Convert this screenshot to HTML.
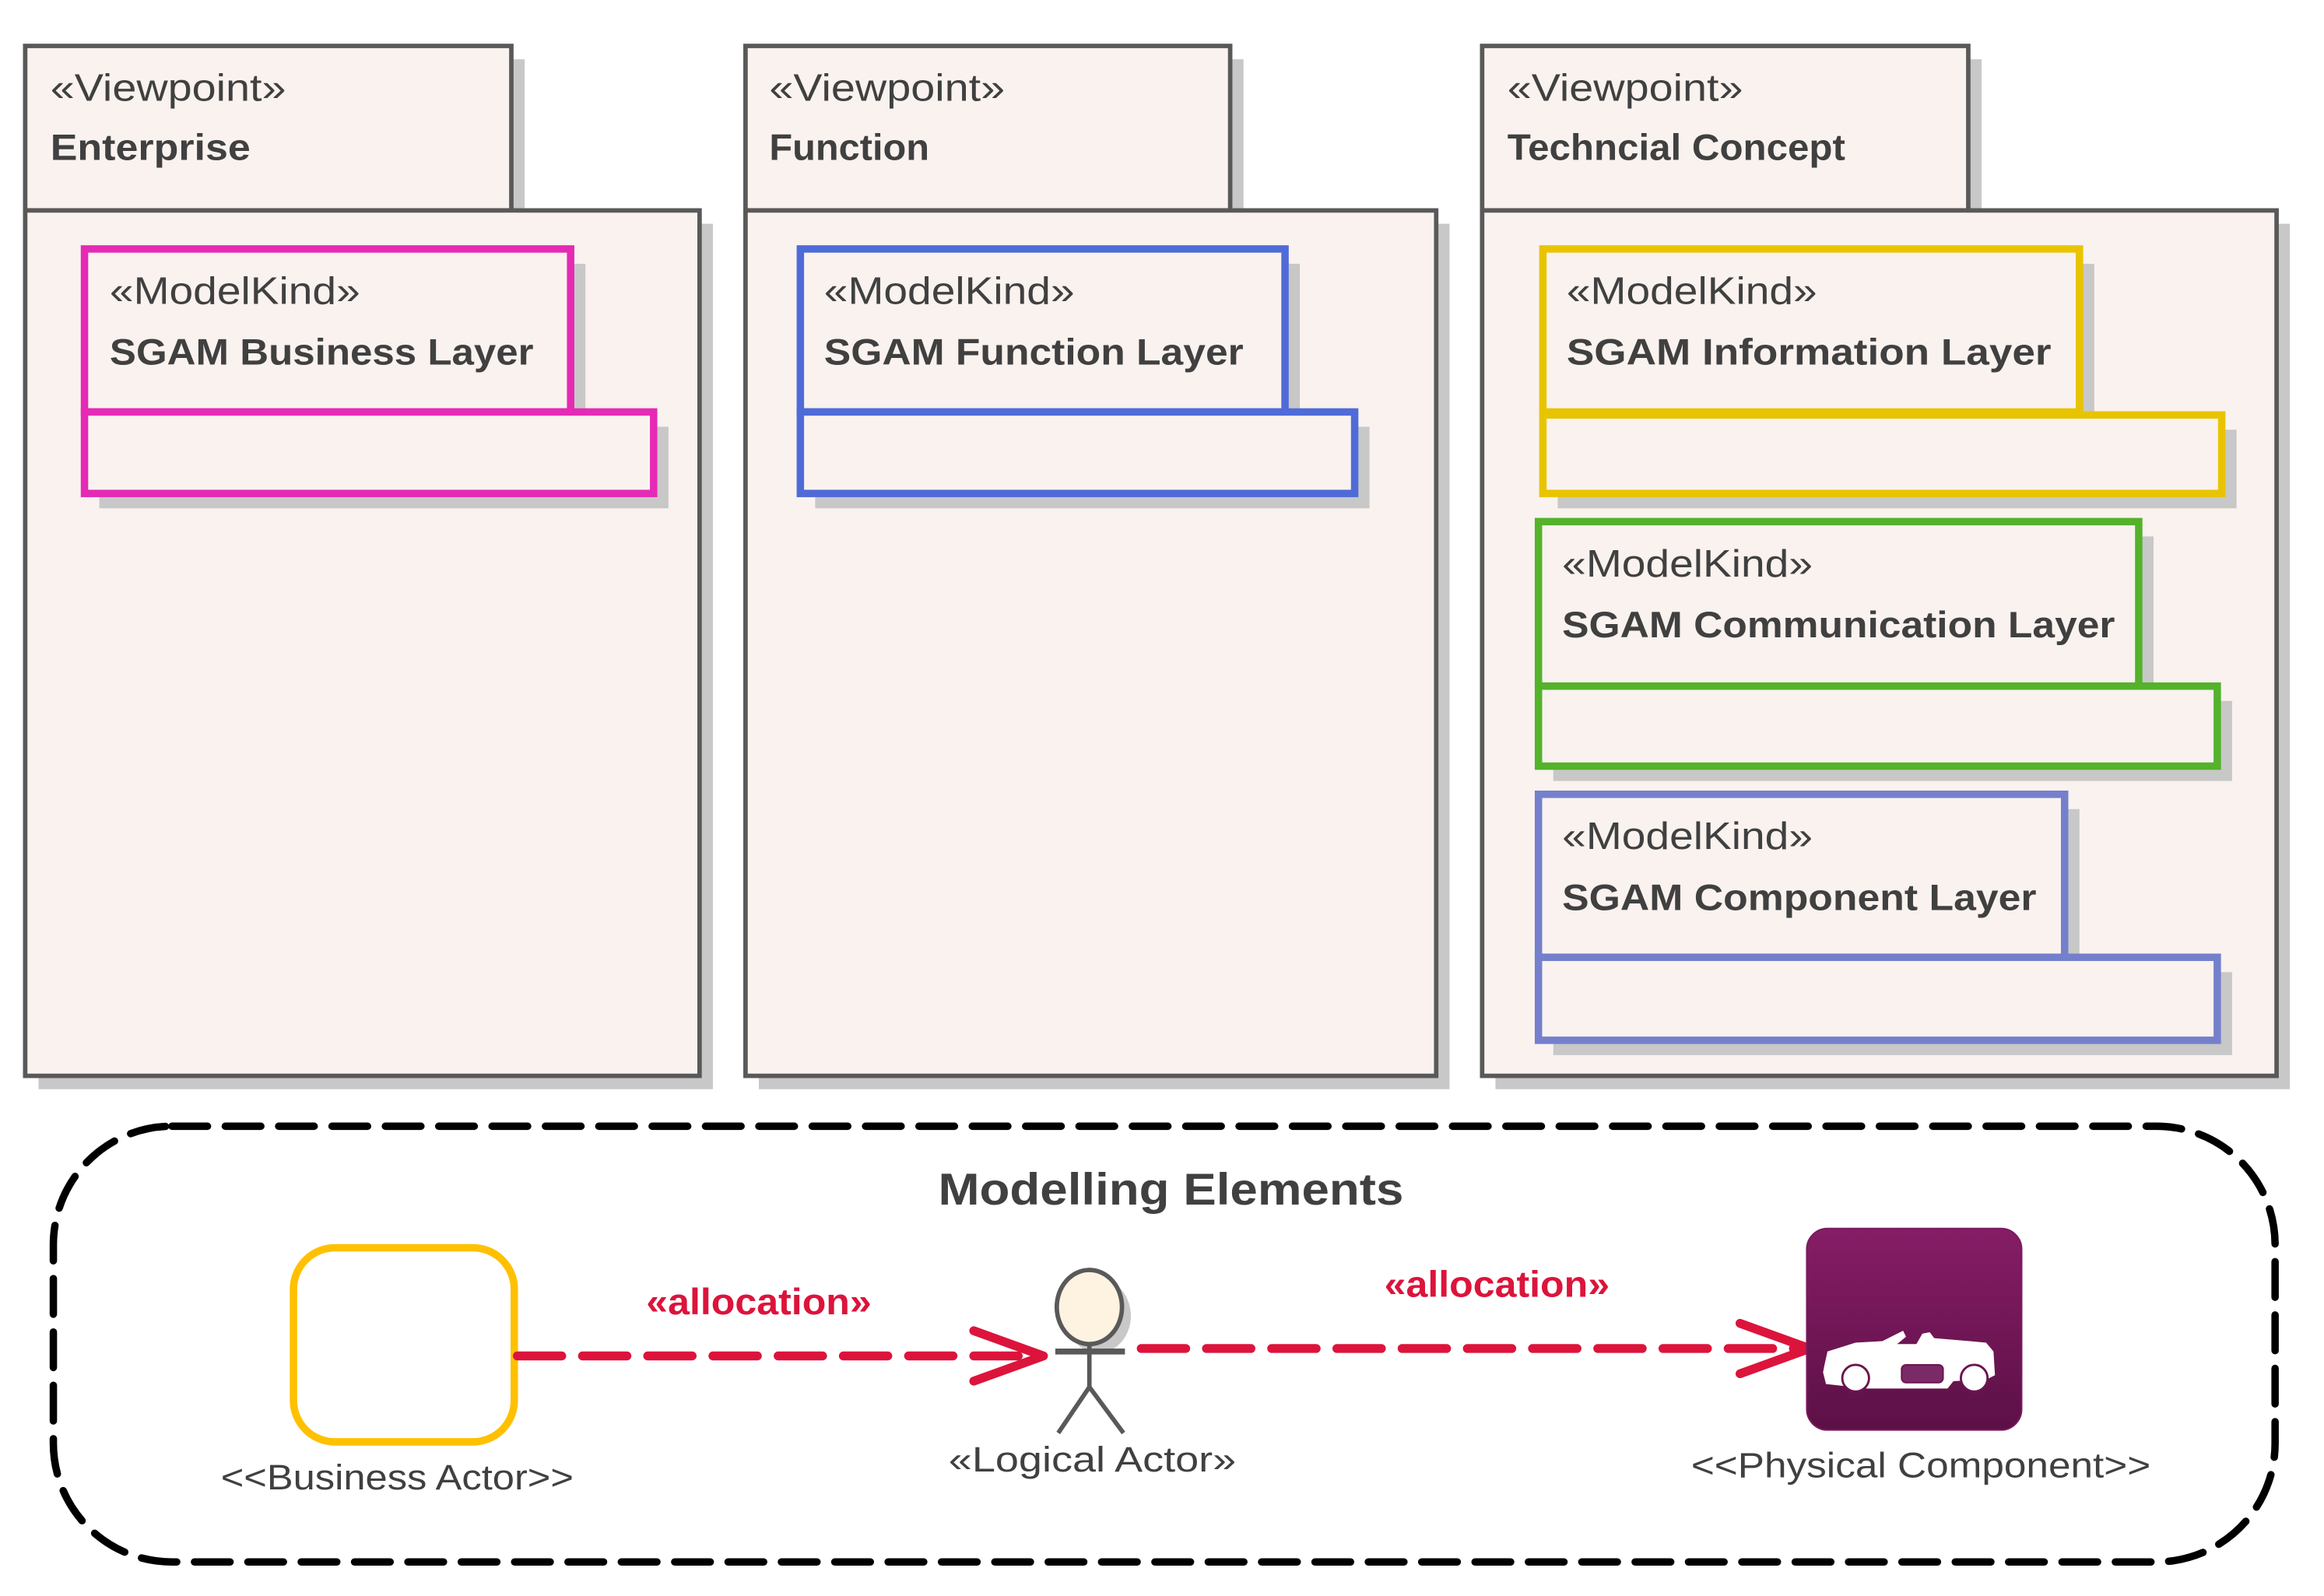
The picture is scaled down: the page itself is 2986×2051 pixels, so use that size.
<!DOCTYPE html>
<html><head><meta charset="utf-8"><style>
html,body{margin:0;padding:0;background:#fff;}
svg{display:block;}
text{font-family:"Liberation Sans",sans-serif;fill:#404040;}
.st{font-size:26px;}
.bt{font-size:25px;font-weight:bold;}
</style></head><body>
<svg width="2986" height="2051" viewBox="0 0 1568 1077" preserveAspectRatio="none" xmlns="http://www.w3.org/2000/svg">
<defs>
<linearGradient id="pg" x1="0" y1="0" x2="0" y2="1"><stop offset="0" stop-color="#861d66"/><stop offset="1" stop-color="#5c1046"/></linearGradient>
</defs>
<g fill="#c8c8c8">
<rect x="26" y="40" width="328" height="111"/><rect x="26" y="151" width="455" height="584"/>
<rect x="512" y="40" width="327" height="111"/><rect x="512" y="151" width="466" height="584"/>
<rect x="1009" y="40" width="328" height="111"/><rect x="1009" y="151" width="536" height="584"/>
</g>
<g fill="#f9f2ef" stroke="#595959" stroke-width="3">
<rect x="17" y="31" width="328" height="111"/><rect x="17" y="142" width="455" height="584"/>
<rect x="503" y="31" width="327" height="111"/><rect x="503" y="142" width="466" height="584"/>
<rect x="1000" y="31" width="328" height="111"/><rect x="1000" y="142" width="536" height="584"/>
</g>
<text class="st" x="34" y="68" textLength="159" lengthAdjust="spacingAndGlyphs">«Viewpoint»</text><text class="bt" x="34" y="108" textLength="135" lengthAdjust="spacingAndGlyphs">Enterprise</text>
<text class="st" x="519" y="68" textLength="159" lengthAdjust="spacingAndGlyphs">«Viewpoint»</text><text class="bt" x="519" y="108" textLength="108" lengthAdjust="spacingAndGlyphs">Function</text>
<text class="st" x="1017" y="68" textLength="159" lengthAdjust="spacingAndGlyphs">«Viewpoint»</text><text class="bt" x="1017" y="108" textLength="228" lengthAdjust="spacingAndGlyphs">Techncial Concept</text>

<g fill="#c8c8c8">
<rect x="67" y="178" width="328" height="110"/><rect x="67" y="288" width="384" height="55"/>
<rect x="550" y="178" width="327" height="110"/><rect x="550" y="288" width="374" height="55"/>
<rect x="1051" y="178" width="362" height="110"/><rect x="1051" y="290" width="458" height="53"/>
<rect x="1048" y="362" width="405" height="111"/><rect x="1048" y="473" width="458" height="54"/>
<rect x="1048" y="546" width="355" height="110"/><rect x="1048" y="656" width="458" height="56"/>
</g>
<g fill="#f9f2ef" stroke-width="5">
<g stroke="#e52ab5"><rect x="57" y="168" width="328" height="110"/><rect x="57" y="278" width="384" height="55"/></g>
<g stroke="#4f6bd8"><rect x="540" y="168" width="327" height="110"/><rect x="540" y="278" width="374" height="55"/></g>
<g stroke="#e8c400"><rect x="1041" y="168" width="362" height="110"/><rect x="1041" y="280" width="458" height="53"/></g>
<g stroke="#54b22b"><rect x="1038" y="352" width="405" height="111"/><rect x="1038" y="463" width="458" height="54"/></g>
<g stroke="#7580cc"><rect x="1038" y="536" width="355" height="110"/><rect x="1038" y="646" width="458" height="56"/></g>
</g>
<text class="st" x="74" y="205" textLength="169" lengthAdjust="spacingAndGlyphs">«ModelKind»</text><text class="bt" x="74" y="246" textLength="286" lengthAdjust="spacingAndGlyphs">SGAM Business Layer</text>
<text class="st" x="556" y="205" textLength="169" lengthAdjust="spacingAndGlyphs">«ModelKind»</text><text class="bt" x="556" y="246" textLength="283" lengthAdjust="spacingAndGlyphs">SGAM Function Layer</text>
<text class="st" x="1057" y="205" textLength="169" lengthAdjust="spacingAndGlyphs">«ModelKind»</text><text class="bt" x="1057" y="246" textLength="327" lengthAdjust="spacingAndGlyphs">SGAM Information Layer</text>
<text class="st" x="1054" y="389" textLength="169" lengthAdjust="spacingAndGlyphs">«ModelKind»</text><text class="bt" x="1054" y="430" textLength="373" lengthAdjust="spacingAndGlyphs">SGAM Communication Layer</text>
<text class="st" x="1054" y="573" textLength="169" lengthAdjust="spacingAndGlyphs">«ModelKind»</text><text class="bt" x="1054" y="614" textLength="320" lengthAdjust="spacingAndGlyphs">SGAM Component Layer</text>

<rect x="36" y="760" width="1499" height="294" rx="80" ry="80" fill="none" stroke="#000" stroke-width="5" stroke-dasharray="24 12" stroke-linecap="round"/>
<text x="790" y="813" text-anchor="middle" style="font-size:30px;font-weight:bold" textLength="314" lengthAdjust="spacingAndGlyphs">Modelling Elements</text>

<rect x="198" y="842" width="149" height="131" rx="28" fill="#fff" stroke="#ffc000" stroke-width="5"/>
<text x="268" y="1005" text-anchor="middle" style="font-size:24px" textLength="238" lengthAdjust="spacingAndGlyphs">&lt;&lt;Business Actor&gt;&gt;</text>

<line x1="349" y1="915" x2="700" y2="915" stroke="#dc143c" stroke-width="6" stroke-dasharray="30 14" stroke-linecap="round"/>
<polyline points="657,898 704,915 657,932" fill="none" stroke="#dc143c" stroke-width="6" stroke-linecap="round" stroke-linejoin="round"/>
<text x="512" y="887" text-anchor="middle" style="font-size:25px;font-weight:bold;fill:#dc143c" textLength="152" lengthAdjust="spacingAndGlyphs">«allocation»</text>

<ellipse cx="741" cy="888" rx="22" ry="25" fill="#c8c8c8"/>
<ellipse cx="735" cy="882" rx="22" ry="25" fill="#fdf3e0" stroke="#595959" stroke-width="3"/>
<g stroke="#595959" stroke-width="3" fill="none">
<line x1="735" y1="907" x2="735" y2="936"/><line x1="712" y1="912" x2="759" y2="912" stroke-width="4"/>
<polyline points="714,967 735,936 758,967"/>
</g>
<text x="737" y="993" text-anchor="middle" style="font-size:24px" textLength="194" lengthAdjust="spacingAndGlyphs">«Logical Actor»</text>

<line x1="770" y1="910" x2="1215" y2="910" stroke="#dc143c" stroke-width="6" stroke-dasharray="30 14" stroke-linecap="round"/>
<polyline points="1174,893 1221,910 1174,927" fill="none" stroke="#dc143c" stroke-width="6" stroke-linecap="round" stroke-linejoin="round"/>
<text x="1010" y="875" text-anchor="middle" style="font-size:25px;font-weight:bold;fill:#dc143c" textLength="152" lengthAdjust="spacingAndGlyphs">«allocation»</text>

<rect x="1219" y="829" width="145" height="136" rx="14" fill="url(#pg)" stroke="#7a1a5e" stroke-width="1"/>
<path d="M1231,921 L1233,912 L1252,906 L1270,905 L1284,898 L1286,902 L1280,907 L1293,907 L1297,900 L1302,899 L1305,903 L1340,906 L1345,912 L1346,928 L1340,931 L1318,932 L1314,937 L1260,937 L1232,934 L1230,926 Z" fill="#fff"/>
<circle cx="1252" cy="930" r="9" fill="#fff" stroke="#6a1450" stroke-width="1.5"/>
<circle cx="1332" cy="930" r="9" fill="#fff" stroke="#6a1450" stroke-width="1.5"/>
<rect x="1283" y="921" width="28" height="12" rx="3" fill="#7a2a66" stroke="#6a1450" stroke-width="1"/>
<text x="1296" y="997" text-anchor="middle" style="font-size:24px" textLength="310" lengthAdjust="spacingAndGlyphs">&lt;&lt;Physical Component&gt;&gt;</text>
</svg>
</body></html>
